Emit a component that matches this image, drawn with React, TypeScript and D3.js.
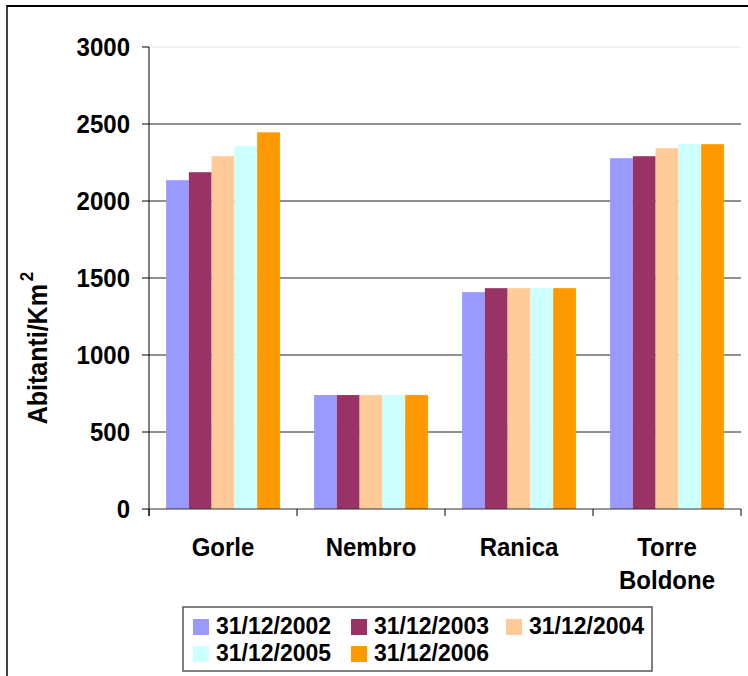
import React from "react";
import * as d3 from "d3";

const categories = ["Gorle", "Nembro", "Ranica", "Torre Boldone"];
const seriesNames = ["31/12/2002", "31/12/2003", "31/12/2004", "31/12/2005", "31/12/2006"];
const s2002 = [2135, 740, 1408, 2278];
const s2003 = [2187, 740, 1434, 2291];
const s2004 = [2291, 740, 1434, 2343];
const s2005 = [2356, 740, 1434, 2369];
const s2006 = [2446, 740, 1434, 2369];
const seriesValues = [s2002, s2003, s2004, s2005, s2006];
const colors = ["#9999FF", "#993366", "#FFCC99", "#CCFFFF", "#FF9900"];
const yTicks = [0, 500, 1000, 1500, 2000, 2500, 3000];

const W = 748;
const H = 676;
const left = 149;
const right = 741;
const top = 47;
const bottom = 509;
const font = "'Liberation Sans', Arial, sans-serif";
const SY = 1.1;

export default function App() {
  const x0 = d3.scaleBand<string>().domain(categories).range([left, right]).padding(0);
  const x1 = d3
    .scaleBand<string>()
    .domain(seriesNames)
    .range([0, x0.bandwidth()])
    .paddingInner(0)
    .paddingOuter(0.75);
  const y = d3.scaleLinear().domain([0, 3000]).range([bottom, top]);

  const boundaries = [...categories.map((c) => x0(c) as number), right];

  const legendPos = [
    { sx: 193, ty: 634 },
    { sx: 351, ty: 634 },
    { sx: 506, ty: 634 },
    { sx: 193, ty: 661 },
    { sx: 351, ty: 661 },
  ];

  return (
    <svg
      width={W}
      height={H}
      style={{ position: "absolute", left: 0, top: 0, background: "#fff" }}
      fontFamily={font}
      fontWeight="bold"
    >
      <rect x={0} y={0} width={W} height={H} fill="#fff" />
      {/* outer border */}
      <line x1={7} y1={6} x2={W} y2={6} stroke="#000" strokeWidth={2} />
      <line x1={7} y1={5} x2={7} y2={H} stroke="#000" strokeWidth={1.5} />

      {/* gridlines */}
      {yTicks.filter((t) => t > 0).map((t) => (
        <line
          key={"g" + t}
          x1={left}
          x2={right}
          y1={y(t)}
          y2={y(t)}
          stroke={t === 3000 ? "#e6e6e6" : "#222"}
          strokeWidth={1}
        />
      ))}

      {/* bars */}
      {categories.map((c, ci) => (
        <g key={c}>
          {seriesNames.map((s, si) => {
            const v = seriesValues[si][ci];
            return (
              <rect
                key={s}
                x={(x0(c) as number) + (x1(s) as number)}
                y={y(v)}
                width={x1.bandwidth()}
                height={y(0) - y(v)}
                fill={colors[si]}
              />
            );
          })}
        </g>
      ))}

      {/* y axis */}
      <line x1={left} x2={left} y1={top} y2={bottom + 7} stroke="#000" strokeWidth={1} />
      {yTicks.map((t) => (
        <g key={"t" + t}>
          <line x1={left - 7} x2={left} y1={y(t)} y2={y(t)} stroke="#000" strokeWidth={1} />
          <text
            transform={`translate(130, ${y(t) + 9}) scale(1, ${SY})`}
            textAnchor="end"
            fontSize={24}
            fill="#000"
          >
            {t}
          </text>
        </g>
      ))}

      {/* x axis */}
      <line x1={left} x2={right} y1={bottom} y2={bottom} stroke="#333" strokeWidth={1.2} />
      {boundaries.map((b, i) => (
        <line key={"b" + i} x1={b} x2={b} y1={bottom} y2={bottom + 7} stroke="#000" strokeWidth={1} />
      ))}
      {categories.map((c) => {
        const cx = (x0(c) as number) + x0.bandwidth() / 2;
        const parts = c === "Torre Boldone" ? ["Torre", "Boldone"] : [c];
        return (
          <g key={"l" + c}>
            {parts.map((p, i) => (
              <text
                key={p}
                transform={`translate(${cx}, ${556 + i * 33}) scale(1, ${SY})`}
                textAnchor="middle"
                fontSize={24}
                fill="#000"
              >
                {p}
              </text>
            ))}
          </g>
        );
      })}

      {/* y axis title */}
      <text
        transform={`translate(47, 348) rotate(-90) scale(1, ${SY})`}
        textAnchor="middle"
        fontSize={25}
        fill="#000"
      >
        Abitanti/Km
        <tspan fontSize={17} dy={-13} dx={3}>
          2
        </tspan>
      </text>

      {/* legend */}
      <rect x={183} y={607} width={469} height={64} fill="#fff" stroke="#555" strokeWidth={1.5} />
      {seriesNames.map((s, i) => (
        <g key={"lg" + s}>
          <rect x={legendPos[i].sx} y={legendPos[i].ty - 15} width={16} height={16} fill={colors[i]} />
          <text x={legendPos[i].sx + 23} y={legendPos[i].ty} fontSize={23} fill="#000">
            {s}
          </text>
        </g>
      ))}
    </svg>
  );
}
